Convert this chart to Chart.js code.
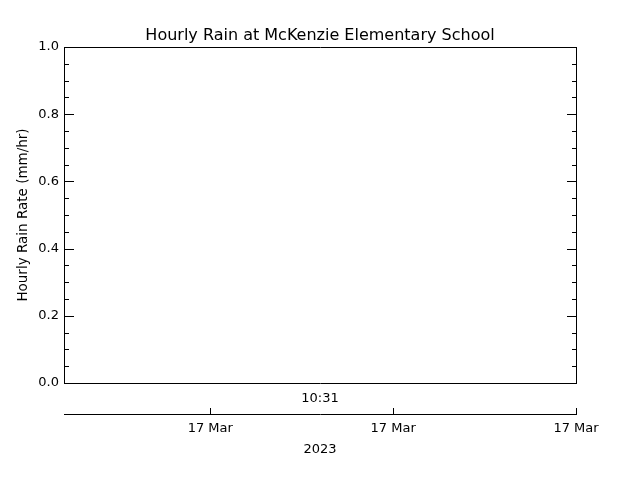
<!DOCTYPE html>
<html>
<head>
<meta charset="utf-8">
<script src="https://cdn.jsdelivr.net/npm/chart.js@4/dist/chart.umd.min.js"></script>
<style>
  html, body { margin: 0; padding: 0; background: #ffffff; }
  canvas { display: block; }
</style>
</head>
<body>
<canvas id="rainChart" width="640" height="480"></canvas>
<script>

// chart data
const chartTitle = "Hourly Rain at McKenzie Elementary School";
const yAxisTitle = "Hourly Rain Rate (mm/hr)";
const startTimeLabel = "10:31";
const yearLabel = "2023";

// time axis in hours, relative to the first date tick
const timeMin = -0.8;
const timeMax = 2.0;
const timeTicks = [0, 1, 2];
const timeTickLabels = ["17 Mar", "17 Mar", "17 Mar"];

// rain rate axis
const rateMin = 0;
const rateMax = 1;
const rateStep = 0.05;
const rateMajorStep = 0.2;

// no rain recorded in this window
const rainTimes = [];
const rainRates = [];

const FONT = "'DejaVu Sans', sans-serif";

function isMajor(value) {
    const ratio = value / rateMajorStep;
    return Math.abs(ratio - Math.round(ratio)) < 1e-6;
}

// IDL-style frame with inward tick marks
const frameTicks = {
    id: "frameTicks",
    afterDraw(chart) {
        const ctx = chart.ctx;
        const area = chart.chartArea;
        const y = chart.scales.y;
        const x2 = chart.scales.x2;

        ctx.save();
        ctx.strokeStyle = "#000000";
        ctx.lineWidth = 1;
        ctx.beginPath();

        // frame
        ctx.rect(area.left + 0.5, area.top + 0.5,
            area.right - area.left, area.bottom - area.top);

        y.ticks.forEach((t) => {
            const py = Math.round(y.getPixelForValue(t.value)) + 0.5;
            const len = isMajor(t.value) ? 10 : 5;
            ctx.moveTo(area.left, py);
            ctx.lineTo(area.left + len, py);
            ctx.moveTo(area.right + 1, py);
            ctx.lineTo(area.right + 1 - len, py);
        });

        x2.ticks.forEach((t) => {
            const px = Math.round(x2.getPixelForValue(t.value)) + 0.5;
            ctx.moveTo(px, x2.top);
            ctx.lineTo(px, x2.top - 6);
        });

        ctx.stroke();
        ctx.restore();
    }
};

const points = rainTimes.map((t, i) => ({x: t, y: rainRates[i]}));

new Chart(document.getElementById("rainChart"), {
    type: "line",
    data: {
        datasets: [
            {
                label: "Hourly Rain",
                data: points,
                borderColor: "#000000",
                borderWidth: 1,
                pointRadius: 0,
                xAxisID: "x",
                yAxisID: "y",
            },
        ],
    },
    options: {
        responsive: false,
        animation: false,
        layout: {
            padding: 0,
        },
        plugins: {
            legend: {display: false},
            tooltip: {enabled: false},
            title: {
                display: true,
                text: chartTitle,
                color: "#000000",
                font: {family: FONT, size: 16, weight: "normal"},
                padding: {top: 26, bottom: 1.8},
            },
        },
        scales: {
            y: {
                type: "linear",
                position: "left",
                min: rateMin,
                max: rateMax,
                afterFit(scale) {
                    scale.width = 64;
                },
                ticks: {
                    stepSize: rateStep,
                    autoSkip: false,
                    color: "#000000",
                    padding: 5,
                    font: {family: FONT, size: 13},
                    callback(value) {
                        return isMajor(value) ? value.toFixed(1) : "";
                    },
                },
                grid: {
                    display: true,
                    drawOnChartArea: false,
                    drawTicks: false,
                },
                border: {display: false},
                title: {
                    display: true,
                    text: yAxisTitle,
                    color: "#000000",
                    font: {family: FONT, size: 13.5},
                    padding: {top: 15, bottom: 0},
                },
            },
            y2: {
                type: "linear",
                position: "right",
                min: rateMin,
                max: rateMax,
                afterFit(scale) {
                    scale.width = 64;
                },
                ticks: {display: false},
                grid: {
                    display: true,
                    drawOnChartArea: false,
                    drawTicks: false,
                },
                border: {display: false},
            },
            x: {
                type: "linear",
                position: "bottom",
                weight: 0,
                min: timeMin,
                max: timeMax,
                afterFit(scale) {
                    scale.height = 31;
                },
                ticks: {display: false},
                grid: {
                    display: true,
                    drawOnChartArea: false,
                    drawTicks: false,
                },
                border: {display: false},
                title: {
                    display: true,
                    text: startTimeLabel,
                    color: "#000000",
                    font: {family: FONT, size: 13},
                    padding: {top: 0, bottom: 8},
                },
            },
            x2: {
                type: "linear",
                position: "bottom",
                weight: 1,
                min: timeMin,
                max: timeMax,
                afterBuildTicks(scale) {
                    scale.ticks = timeTicks.map((v) => ({value: v}));
                },
                afterFit(scale) {
                    scale.height = 66;
                },
                ticks: {
                    autoSkip: false,
                    maxRotation: 0,
                    color: "#000000",
                    padding: 7,
                    font: {family: FONT, size: 13},
                    callback(value, index) {
                        return timeTickLabels[index];
                    },
                },
                grid: {
                    display: true,
                    drawOnChartArea: false,
                    drawTicks: false,
                },
                border: {display: true, color: "#000000", width: 1},
                title: {
                    display: true,
                    text: yearLabel,
                    color: "#000000",
                    font: {family: FONT, size: 13},
                    padding: {top: 0, bottom: 23},
                },
            },
        },
    },
    plugins: [frameTicks],
});

</script>
</body>
</html>
